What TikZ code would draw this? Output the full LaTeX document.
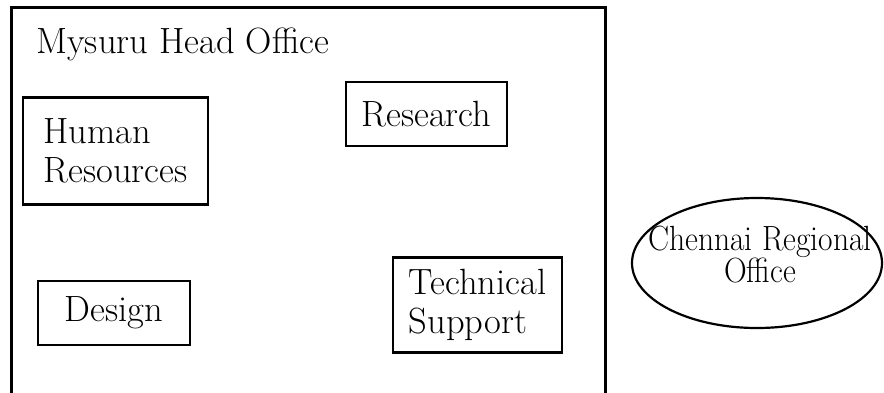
\documentclass[tikz,border=0pt]{standalone}
\usetikzlibrary{shapes.geometric}
\begin{document}
\begin{tikzpicture}[x=1pt,y=-1pt,
  frame/.style={draw, line width=3pt, inner sep=0pt},
  unit/.style={draw, line width=2.8pt, inner sep=0pt, align=left,
    font=\fontsize{36.5}{39}\selectfont},
  oval/.style={draw, ellipse, line width=2.2pt, inner sep=0pt},
  lbl/.style={font=\fontsize{36.5}{39}\selectfont, inner sep=0pt}]
\useasboundingbox (0,0) rectangle (884,392);
\node[frame, anchor=north west, minimum width=594pt, minimum height=400pt] (ho) at (10,6) {};
\node[lbl, anchor=base west] (title) at (36,53) {Mysuru Head Office};
\node[unit, minimum width=185pt, minimum height=107pt] (hr) at (115.5,151) {Human\\Resources};
\node[unit, minimum width=161pt, minimum height=64pt] (res) at (426.5,114) {Research};
\node[unit, minimum width=152pt, minimum height=64pt] (des) at (114,313) {Design};
\node[unit, minimum width=169pt, minimum height=95pt] (tech) at (477.5,305) {Technical\\Support};
\node[oval, minimum width=250pt, minimum height=130pt] (cro) at (757,263) {};
\node[inner sep=0pt, align=center, font=\fontsize{35}{32}\selectfont, xscale=0.9, transform shape] (crotext) at (760,255) {Chennai Regional\\Office};
\end{tikzpicture}
\end{document}
